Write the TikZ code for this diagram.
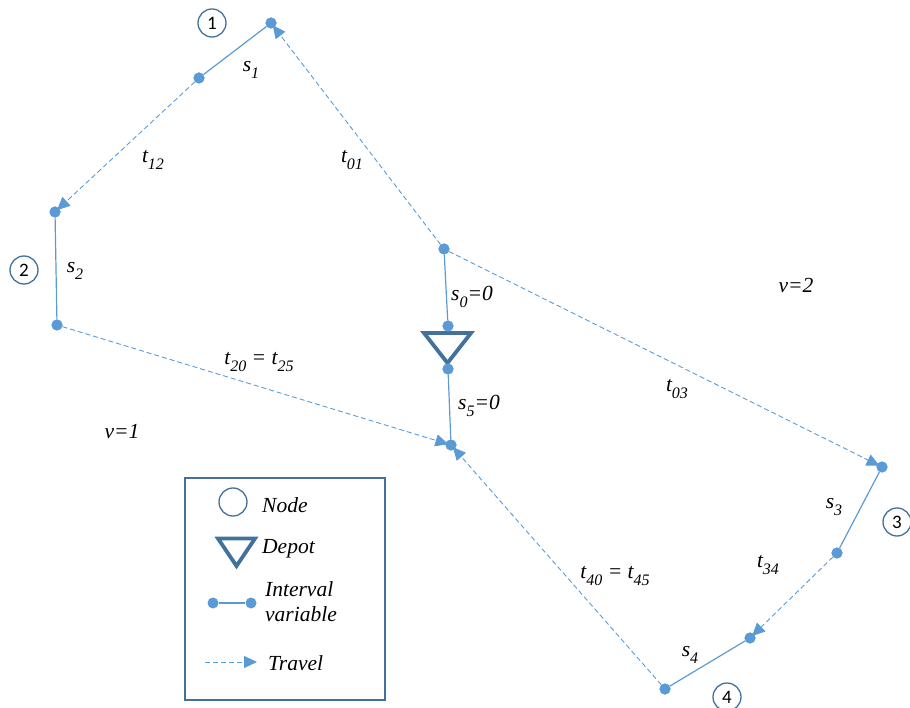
\documentclass[tikz,border=0pt]{standalone}
\usepackage{fontspec}
\setmainfont{Liberation Serif}
\newfontfamily\numfont{Carlito}
\usetikzlibrary{arrows.meta}
\definecolor{lblue}{HTML}{5B9BD5}
\definecolor{dblue}{HTML}{41719C}
\newcommand\lab[2]{#1\raisebox{-0.32em}{\fontsize{16}{16}\selectfont #2}}
\begin{document}
\begin{tikzpicture}[x=1pt,y=-1pt,
  dot/.style={circle,fill=lblue,inner sep=0,minimum size=11pt},
  num/.style={circle,draw=dblue,line width=1.3pt,minimum size=28pt,inner sep=0,font=\numfont\fontsize{19}{19}\selectfont},
  ivl/.style={draw=lblue,line width=1.2pt},
  trv/.style={draw=lblue,line width=0.9pt,dash pattern=on 5pt off 3pt,-{Triangle[length=13pt,width=12pt]},shorten >=-3pt},
  lbl/.style={font=\fontsize{21.5}{25}\selectfont\itshape,inner sep=0},
  depotline/.style={draw=dblue,line width=3.8pt,line join=miter}]
\useasboundingbox (0,0) rectangle (910,708);

% circles with numbers
\node[num] (n1) at (212,23) {1};
\node[num] (n2) at (24,270) {2};
\node[num] (n3) at (897,522) {3};
\node[num] (n4) at (727,697) {4};

% dots
\node[dot] (p1e) at (271,23) {};
\node[dot] (p1s) at (199,78) {};
\node[dot] (p2s) at (55,212) {};
\node[dot] (p2e) at (57,325) {};
\node[dot] (p0) at (444,249) {};
\node[dot] (dtop) at (448,326) {};
\node[dot] (dbot) at (448,369) {};
\node[dot] (p5) at (451,445) {};
\node[dot] (p3s) at (882,467) {};
\node[dot] (p3e) at (837,553) {};
\node[dot] (p4s) at (750,638) {};
\node[dot] (p4e) at (665,689) {};

% depot
\draw[depotline] (424,333) -- (471,333) -- (447.5,363) -- cycle;

% travel
\draw[trv] (p0) -- (p1e);
\draw[trv] (p1s) -- (p2s);
\draw[trv] (p2e) -- (p5);
\draw[trv] (p0) -- (p3s);
\draw[trv] (p3e) -- (p4s);
\draw[trv] (p4e) -- (p5);

% intervals
\draw[ivl] (p1e) -- (p1s);
\draw[ivl] (p2s) -- (p2e);
\draw[ivl] (p0) -- (dtop);
\draw[ivl] (dbot) -- (p5);
\draw[ivl] (p3s) -- (p3e);
\draw[ivl] (p4s) -- (p4e);

% redraw dots on top
\foreach \p in {p1e,p1s,p2s,p2e,p0,dtop,dbot,p5,p3s,p3e,p4s,p4e}
  \fill[lblue] (\p) circle (5.5pt);

% labels
\node[lbl] (ls1) at (251,70) {\lab{s}{1}};
\node[lbl] (lt12) at (153,160) {\lab{t}{12}};
\node[lbl] (lt01) at (352,160) {\lab{t}{01}};
\node[lbl] (ls2) at (75,271) {\lab{s}{2}};
\node[lbl] (ls0) at (472,297) {\lab{s}{0}=0};
\node[lbl] (lv2) at (796,285) {v=2};
\node[lbl] (lt20) at (259,362) {\lab{t}{20} = \lab{t}{25}};
\node[lbl] (ls5) at (479,406) {\lab{s}{5}=0};
\node[lbl] (lt03) at (677,389) {\lab{t}{03}};
\node[lbl] (lv1) at (122,432) {v=1};
\node[lbl] (ls3) at (834,507) {\lab{s}{3}};
\node[lbl] (lt34) at (768,565) {\lab{t}{34}};
\node[lbl] (lt40) at (615,576) {\lab{t}{40} = \lab{t}{45}};
\node[lbl] (ls4) at (690,655) {\lab{s}{4}};

% legend
\draw[dblue,line width=1.2pt] (185,478) rectangle (385,700);
\draw[dblue,line width=1.3pt] (233,502) circle (14pt);
\node[lbl,anchor=west] (lnode) at (262,505) {Node};
\draw[depotline] (218,538.5) -- (255,538.5) -- (236.5,566) -- cycle;
\node[lbl,anchor=west] (ldepot) at (262,549) {Depot};
\node[dot] (ld1) at (213,603) {};
\node[dot] (ld2) at (251,603) {};
\draw[ivl] (ld1) -- (ld2);
\node[lbl,anchor=west,align=left] (livl) at (265,602) {Interval\\variable};
\coordinate (lt1) at (205,662);
\coordinate (lt2) at (257,662);
\draw[trv,shorten >=0pt] (lt1) -- (lt2);
\node[lbl,anchor=west] (ltrv) at (268,663) {Travel};
\end{tikzpicture}
\end{document}
